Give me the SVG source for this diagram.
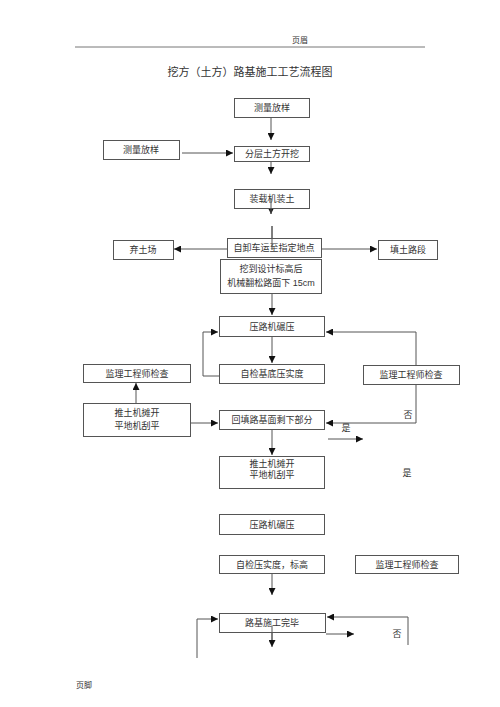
<svg xmlns="http://www.w3.org/2000/svg" width="500" height="707" viewBox="0 0 500 707">
<defs>
<marker id="ah" viewBox="0 0 8 8" refX="8" refY="4" markerWidth="7" markerHeight="7" markerUnits="userSpaceOnUse" orient="auto">
<path d="M0,0 L8,4 L0,8 z" fill="#111"/>
</marker>
</defs>
<style>
.b{fill:#fff;stroke:#555;stroke-width:1}
.t{font-family:"Liberation Sans","Noto Sans CJK SC",sans-serif;font-size:9px;fill:#333;text-anchor:middle}
.c line,.c polyline{stroke:#555;stroke-width:1;fill:none}
.a{marker-end:url(#ah)}
</style>
<rect width="500" height="707" fill="#fff"/>
<text class="t" x="300" y="43" style="font-size:8px">页眉</text>
<line x1="75" y1="47" x2="425" y2="47" stroke="#777" stroke-width="1"/>
<text class="t" x="250" y="76" style="font-size:11px">挖方（土方）路基施工工艺流程图</text>

<g class="c">
<line class="a" x1="271" y1="118" x2="271" y2="140"/>
<line class="a" x1="182" y1="153" x2="233" y2="153"/>
<line class="a" x1="271" y1="161" x2="271" y2="174"/>
<line class="a" x1="271" y1="198" x2="271" y2="214"/>
<line class="a" x1="272" y1="226" x2="272" y2="258"/>
<line class="a" x1="227" y1="249" x2="174" y2="249"/>
<line class="a" x1="322" y1="249" x2="377" y2="249"/>
<line class="a" x1="272" y1="293" x2="272" y2="315"/>
<line class="a" x1="272" y1="337" x2="272" y2="363"/>
<polyline class="a" points="219,376 203,376 203,332 218,332"/>
<polyline class="a" points="416,366 416,332 326,332"/>
<polyline class="a" points="416,384 416,423 326,423"/>
<line class="a" x1="136" y1="403" x2="136" y2="383"/>
<line class="a" x1="190" y1="423" x2="218" y2="423"/>
<line class="a" x1="328" y1="439" x2="363" y2="439"/>
<line class="a" x1="272" y1="429" x2="272" y2="455"/>
<line class="a" x1="272" y1="573" x2="272" y2="595"/>
<polyline class="a" points="197,658 197,619 218,619"/>
<polyline class="a" points="408,645 408,617 327,617"/>
<line class="a" x1="272" y1="632" x2="272" y2="647"/>
<line class="a" x1="326" y1="634" x2="354" y2="634"/>
</g>

<g id="n1"><rect class="b" x="234.500" y="98.500" width="75" height="19"/><text class="t" x="272" y="111">测量放样</text></g>
<g id="n2"><rect class="b" x="103.500" y="140.500" width="76" height="19"/><text class="t" x="141" y="153">测量放样</text></g>
<g id="n3"><rect class="b" x="234.500" y="146.500" width="75" height="15"/><text class="t" x="272" y="157">分层土方开挖</text></g>
<g id="n4"><rect class="b" x="234.500" y="189.500" width="75" height="19"/><text class="t" x="272" y="202">装载机装土</text></g>
<line x1="271" y1="198" x2="271" y2="214" stroke="#555"/>
<g id="n5"><rect class="b" x="227.500" y="238.500" width="94" height="19"/><text class="t" x="274" y="251">自卸车运至指定地点</text></g>
<line x1="272" y1="226" x2="272" y2="250" stroke="#555"/>
<g id="n6"><rect class="b" x="113.500" y="240.500" width="60" height="19"/><text class="t" x="143" y="253">弃土场</text></g>
<g id="n7"><rect class="b" x="378.500" y="240.500" width="59" height="19"/><text class="t" x="408" y="253">填土路段</text></g>
<g id="n8"><rect class="b" x="220.500" y="259.500" width="101" height="34"/><text class="t" x="271" y="272">挖到设计标高后</text><text class="t" x="271" y="286">机械翻松路面下 15cm</text></g>
<g id="n9"><rect class="b" x="219.500" y="316.500" width="105" height="20"/><text class="t" x="272" y="330">压路机碾压</text></g>
<g id="n10"><rect class="b" x="219.500" y="364.500" width="105" height="19"/><text class="t" x="272" y="377">自检基底压实度</text></g>
<g id="n11"><rect class="b" x="363.500" y="365.500" width="96" height="19"/><text class="t" x="411" y="378">监理工程师检查</text></g>
<g id="n12"><rect class="b" x="83.500" y="364.500" width="107" height="18"/><text class="t" x="137" y="377">监理工程师检查</text></g>
<g id="n13"><rect class="b" x="83.500" y="403.500" width="107" height="33"/><text class="t" x="137" y="416">推土机摊开</text><text class="t" x="137" y="429">平地机刮平</text></g>
<g id="n14"><rect class="b" x="219.500" y="410.500" width="105" height="19"/><text class="t" x="272" y="423">回填路基面剩下部分</text></g>
<g id="n15"><rect class="b" x="219.500" y="456.500" width="105" height="32"/><text class="t" x="272" y="467">推土机摊开</text><text class="t" x="272" y="478">平地机刮平</text></g>
<g id="n16"><rect class="b" x="219.500" y="514.500" width="105" height="20"/><text class="t" x="272" y="528">压路机碾压</text></g>
<g id="n17"><rect class="b" x="219.500" y="555.500" width="105" height="18"/><text class="t" x="272" y="568">自检压实度，标高</text></g>
<g id="n18"><rect class="b" x="355.500" y="555.500" width="103" height="18"/><text class="t" x="407" y="568">监理工程师检查</text></g>
<g id="n19"><rect class="b" x="219.500" y="613.500" width="106" height="19"/><text class="t" x="272" y="626">路基施工完毕</text></g>
<line x1="272" y1="626" x2="272" y2="640" stroke="#555"/>

<text class="t" x="408" y="418">否</text>
<text class="t" x="346" y="431">是</text>
<text class="t" x="407" y="476">是</text>
<text class="t" x="397" y="637">否</text>
<text class="t" x="84" y="688" style="font-size:8px">页脚</text>
</svg>
